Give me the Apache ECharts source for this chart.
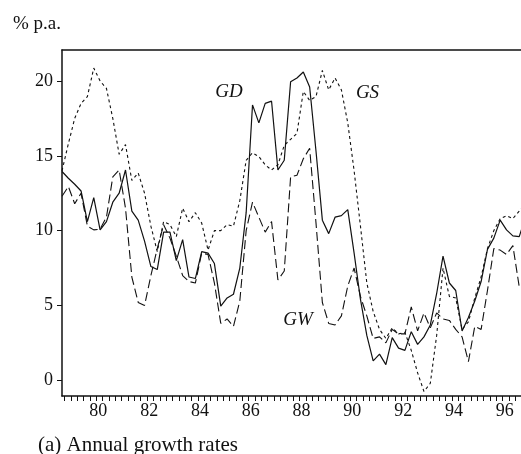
<!DOCTYPE html>
<html>
<head>
<meta charset="utf-8">
<script src="https://cdn.jsdelivr.net/npm/echarts@6/dist/echarts.min.js"></script>
<style>
html,body{margin:0;padding:0;background:#fff;}
#chart{width:521px;height:454px;}
</style>
</head>
<body>
<div id="chart"></div>
<script>
// Quarterly observations, first one at the left edge of the plot
const startYear = 78.57;
const yearTicks = [80, 82, 84, 86, 88, 90, 92, 94, 96];
const yTicks = [0, 5, 10, 15, 20];

const GD = [13.95, 13.5, 13.1, 12.65, 10.6, 12.2, 10.05, 10.6, 11.9, 12.5,
  14.05, 11.3, 10.7, 9.3, 7.6, 7.4, 9.9, 9.9, 8.0, 9.4,
  6.9, 6.8, 8.6, 8.5, 7.8, 4.95, 5.5, 5.75, 7.5, 11.2,
  18.4, 17.2, 18.5, 18.65, 14.05, 14.7, 19.95, 20.2, 20.6, 19.6,
  15.3, 10.7, 9.8, 10.9, 11.0, 11.4, 8.5, 5.4, 3.0, 1.3,
  1.75, 1.05, 2.85, 2.15, 2.0, 3.25, 2.4, 2.9, 3.7, 5.8,
  8.3, 6.5, 6.0, 3.3, 4.2, 5.3, 6.6, 8.75, 9.5, 10.7,
  10.05, 9.65, 9.6, 10.9];

const GS = [14.0, 15.8, 17.5, 18.5, 18.96, 20.86, 20.0, 19.5, 17.5, 15.1,
  15.75, 13.35, 13.85, 12.5, 10.3, 8.6, 10.6, 10.4, 9.6, 11.5,
  10.6, 11.2, 10.5, 8.7, 10.0, 10.0, 10.4, 10.3, 12.0, 14.7,
  15.2, 14.95, 14.4, 14.05, 14.4, 15.7, 16.1, 16.5, 19.3, 18.7,
  18.96, 20.7, 19.4, 20.2, 19.4, 17.2, 14.0, 10.3, 6.5, 4.6,
  3.4, 2.8, 3.5, 3.1, 3.2, 2.0, 0.5, -0.75, -0.2, 3.0,
  7.5, 5.6, 5.5, 3.4, 3.9, 5.5, 6.9, 8.8, 10.0, 10.8,
  11.0, 10.8, 11.3, 11.8];

const GW = [12.3, 12.95, 11.8, 12.5, 10.3, 10.05, 10.1, 10.9, 13.6, 14.05,
  11.5, 6.9, 5.2, 5.0, 7.0, 8.8, 10.4, 9.5, 8.3, 7.0,
  6.6, 6.5, 8.5, 8.4, 6.5, 3.8, 4.1, 3.6, 5.3, 10.0,
  11.9, 10.9, 9.9, 10.6, 6.7, 7.3, 13.6, 13.7, 14.8, 15.5,
  10.5, 5.2, 3.8, 3.7, 4.3, 6.3, 7.5, 5.6, 4.3, 2.8,
  2.9, 2.5, 3.4, 3.1, 3.1, 4.9, 3.3, 4.5, 3.5, 4.5,
  4.1, 4.0, 3.4, 2.9, 1.25, 3.6, 3.4, 6.0, 8.8, 8.7,
  8.4, 9.0, 6.25, 6.4];

function pairs(arr) { return arr.map((v, i) => [startYear + i * 0.25, v]); }
const quarterTicks = [];
for (let t = 78.67; t < 96.7; t += 0.25) quarterTicks.push(+t.toFixed(2));

const FONT = '"Liberation Serif", "Times New Roman", serif';
const chart = echarts.init(document.getElementById('chart'), null, {renderer: 'canvas'});
const lineBase = {type: 'line', showSymbol: false, symbol: 'none', clip: true, animation: false, z: 3};
chart.setOption({
  animation: false,
  backgroundColor: '#fff',
  grid: {left: 62, top: 50, right: 0, bottom: 58, containLabel: false},
  xAxis: [{
    type: 'value', min: 78.57, max: 96.64, position: 'bottom',
    axisLine: {show: true, onZero: false, lineStyle: {color: '#111', width: 1.5}},
    axisTick: {show: true, customValues: quarterTicks, length: 5, lineStyle: {color: '#111', width: 1}},
    axisLabel: {show: true, customValues: yearTicks, margin: 6, color: '#111', fontSize: 18, fontFamily: FONT},
    splitLine: {show: false}
  }, {
    type: 'value', min: 78.57, max: 96.64, position: 'top',
    axisLine: {show: true, onZero: false, lineStyle: {color: '#111', width: 1.5}},
    axisTick: {show: false}, axisLabel: {show: false}, splitLine: {show: false}
  }],
  yAxis: {
    type: 'value', min: -1.05, max: 22.07,
    axisLine: {show: true, onZero: false, lineStyle: {color: '#111', width: 1.5}},
    axisTick: {show: true, customValues: yTicks, length: 5, lineStyle: {color: '#111'}},
    axisLabel: {show: true, customValues: yTicks, margin: 9, color: '#111', fontSize: 18, fontFamily: FONT},
    splitLine: {show: false}
  },
  graphic: [
    {type: 'text', x: 13, y: 24, style: {text: '% p.a.', font: '19px ' + FONT, fill: '#111', verticalAlign: 'middle'}},
    {type: 'text', x: 38, y: 445, style: {text: '(a) Annual growth rates', font: '21px ' + FONT, fill: '#111', verticalAlign: 'middle'}},
    {type: 'text', x: 229, y: 92, style: {text: 'GD', font: 'italic 19px ' + FONT, fill: '#111', align: 'center', verticalAlign: 'middle'}},
    {type: 'text', x: 367.5, y: 93, style: {text: 'GS', font: 'italic 19px ' + FONT, fill: '#111', align: 'center', verticalAlign: 'middle'}},
    {type: 'text', x: 298, y: 320, style: {text: 'GW', font: 'italic 19px ' + FONT, fill: '#111', align: 'center', verticalAlign: 'middle'}}
  ],
  series: [
    Object.assign({}, lineBase, {name: 'GD', data: pairs(GD), lineStyle: {color: '#111', width: 1.2, type: 'solid'}}),
    Object.assign({}, lineBase, {name: 'GS', data: pairs(GS), lineStyle: {color: '#111', width: 1.1, type: [3, 3]}}),
    Object.assign({}, lineBase, {name: 'GW', data: pairs(GW), lineStyle: {color: '#111', width: 1.1, type: [9, 4]}})
  ]
});
</script>
</body>
</html>
